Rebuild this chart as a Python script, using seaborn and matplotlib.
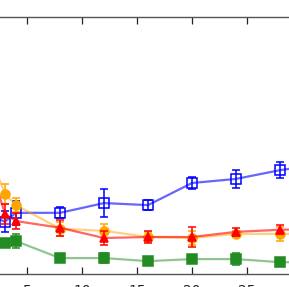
import matplotlib
matplotlib.use("Agg")
import matplotlib.pyplot as plt
import pandas as pd
import seaborn as sns

# x positions (data units)
steps = [2, 3, 4, 8, 12, 16, 20, 24, 28, 32]

blue_y = [11.0, 10.2, 11.9, 11.9, 13.8, 13.4, 17.7, 18.5, 20.2, 21.4]
blue_err = [2.0, 2.1, 2.3, 1.1, 2.7, 1.0, 1.1, 1.75, 1.5, 1.4]

orange_y = [21.0, 15.6, 13.4, 8.8, 8.4, 7.2, 7.0, 7.8, 7.8, 7.8]
orange_err = [2.0, 1.9, 1.4, 1.4, 1.3, 1.0, 1.3, 0.6, 1.4, 1.4]

red_y = [18.5, 11.7, 10.3, 9.0, 7.0, 7.2, 7.2, 8.2, 8.6, 8.8]
red_err = [2.0, 1.9, 1.5, 1.55, 1.4, 1.1, 1.85, 0.8, 0.9, 0.9]

green_y = [6.0, 6.0, 6.4, 3.1, 3.1, 2.5, 2.9, 2.9, 2.3, 2.3]
green_err = [0.8, 0.8, 1.4, 0.4, 1.0, 0.4, 0.6, 1.2, 0.4, 0.4]

series = [
    ("blue", blue_y, blue_err, "s", "none", 6.5, 0.6),
    ("orange", orange_y, orange_err, "o", "orange", 6.5, 0.5),
    ("red", red_y, red_err, "^", "red", 5.5, 0.6),
    ("forestgreen", green_y, green_err, "s", "forestgreen", 6.5, 0.5),
]

sns.set_style("ticks")
fig = plt.figure(figsize=(2.89, 2.87), dpi=100)
# axes is wider than the canvas: left/right edges fall outside
ax = fig.add_axes([-28 / 289, 1 - 274 / 287, 330 / 289, 257 / 287])

for color, ys, errs, marker, face, ms, a in series:
    df = pd.DataFrame({"x": steps, "y": ys})
    sns.lineplot(data=df, x="x", y="y", ax=ax, color=color, alpha=a,
                 linewidth=1.6, sort=False)
    ax.errorbar(steps, ys, yerr=errs, fmt="none", ecolor=color,
                elinewidth=1.1, capsize=3, capthick=1.1)
    ax.plot(steps, ys, linestyle="none", marker=marker, markersize=ms,
            markerfacecolor=face, markeredgecolor=color, markeredgewidth=1.1)

ax.set_xlim(0, 30)
ax.set_ylim(0, 50)
ax.set_xticks([0, 5, 10, 15, 20, 25, 30])
ax.set_xlabel("")
ax.set_ylabel("")
ax.tick_params(axis="x", direction="in", top=True, bottom=True, length=5,
               width=0.9, color="#222222", labelsize=10, pad=7)
ax.tick_params(axis="y", left=False, labelleft=False)
for side in ["top", "bottom", "left", "right"]:
    ax.spines[side].set_color("#555555")
    ax.spines[side].set_linewidth(1.0)

fig.savefig("out.png", dpi=100)
